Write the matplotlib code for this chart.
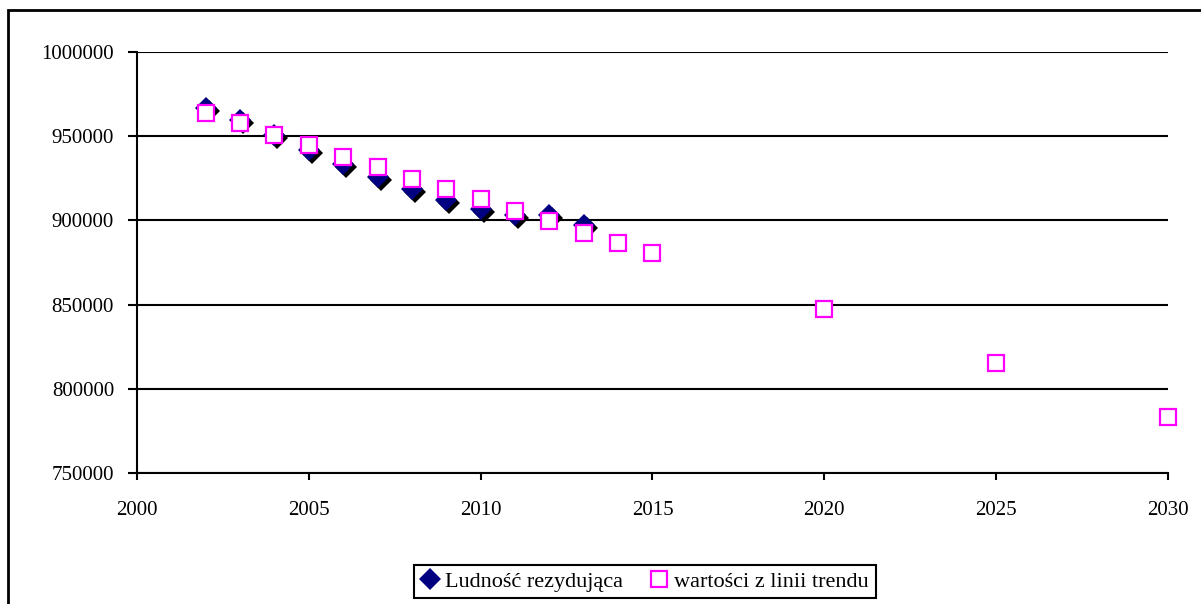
import matplotlib
matplotlib.use("Agg")
import matplotlib.pyplot as plt
import matplotlib.transforms as mtransforms
from matplotlib.patches import Rectangle
from matplotlib.ticker import FuncFormatter

# ----------------------
# dane
# ----------------------
years_data = [2002, 2003, 2004, 2005, 2006, 2007, 2008, 2009, 2010, 2011, 2012, 2013]
ludnosc = [966500, 959500, 951000, 942000, 933500, 925500, 918500, 912000, 907000, 903000, 903500, 897000]

years_trend = [2002, 2003, 2004, 2005, 2006, 2007, 2008, 2009, 2010, 2011, 2012, 2013, 2014, 2015, 2020, 2025, 2030]
trend = [963950, 958000, 950900, 944950, 937800, 931900, 924800, 918800, 912900, 905800, 899800, 892700,
         886600, 880600, 847400, 815300, 783250]

x_ticks = [2000, 2005, 2010, 2015, 2020, 2025, 2030]
y_ticks = [750000, 800000, 850000, 900000, 950000, 1000000]

plt.rcParams["font.family"] = ["Liberation Serif", "DejaVu Serif"]

fig = plt.figure(figsize=(12.01, 6.04), dpi=100)
ax = fig.add_axes([137 / 1201, 1 - 473 / 604, (1168 - 137) / 1201, (473 - 52) / 604])

# ramka wykresu (ucieta z prawej i z dolu)
fig.patches.append(Rectangle((8 / 1201, -0.05), 1.2, 1 - 9.5 / 604 + 0.05,
                             transform=fig.transFigure, fill=False,
                             edgecolor="black", linewidth=2))

# cien pod rombami
shadow = ax.transData + mtransforms.ScaledTranslation(3 / 100, -3 / 100, fig.dpi_scale_trans)
ax.plot(years_data, ludnosc, linestyle="none", marker="D", markersize=11,
        color="black", markeredgewidth=0, transform=shadow, zorder=3, clip_on=False)
ax.plot(years_data, ludnosc, linestyle="none", marker="D", markersize=11,
        color="#000080", markeredgewidth=0, zorder=4, clip_on=False,
        label="Ludność rezydująca")
ax.plot(years_trend, trend, linestyle="none", marker="s", markersize=11,
        markerfacecolor="white", markeredgecolor="#FF00FF", markeredgewidth=1.6,
        zorder=5, clip_on=False, label="wartości z linii trendu")

ax.set_xlim(2000, 2030)
ax.set_ylim(750000, 1000000)
ax.set_xticks(x_ticks)
ax.set_yticks(y_ticks)
ax.yaxis.set_major_formatter(FuncFormatter(lambda v, p: f"{int(v)}"))
ax.yaxis.grid(True, color="black", linewidth=1.5)
ax.set_axisbelow(True)
for s in ["top", "right"]:
    ax.spines[s].set_visible(False)
for s in ["left", "bottom"]:
    ax.spines[s].set_linewidth(1.5)
ax.tick_params(axis="y", length=6.5, width=1.5, pad=10, labelsize=15)
ax.tick_params(axis="x", length=5, width=1.5, pad=15, labelsize=15)

leg = fig.legend(loc="center", bbox_to_anchor=(645 / 1201, 1 - 581.5 / 604), ncol=2,
                 frameon=True, fancybox=False, edgecolor="black", framealpha=1,
                 fontsize=16, handlelength=0.8, handletextpad=0.3, columnspacing=1.2,
                 borderpad=0.3)
leg.get_frame().set_linewidth(1.5)

fig.savefig("out.png", dpi=100)
